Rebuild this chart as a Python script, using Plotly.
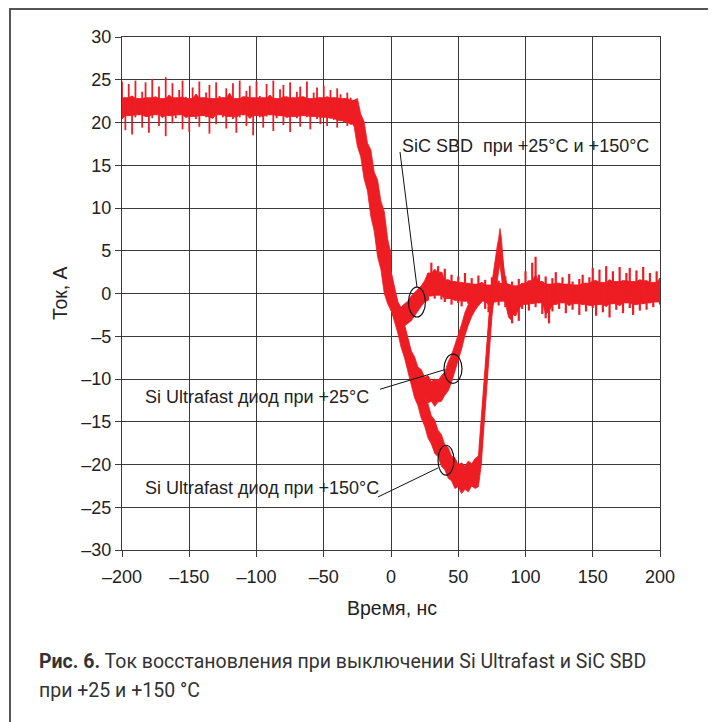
import plotly.graph_objects as go

# ---------------- data ----------------
# common plateau of all three diodes (upper / lower noise extremes)
plateau_t = [-200, -197.5, -195, -192.5, -190, -187.5, -185, -182.5, -180, -177.5,
             -175, -172.5, -170, -167.5, -165, -162.5, -160, -157.5, -155, -152.5,
             -150, -147.5, -145, -142.5, -140, -137.5, -135, -132.5, -130, -127.5,
             -125, -122.5, -120, -117.5, -115, -112.5, -110, -107.5, -105, -102.5,
             -100, -97.5, -95, -92.5, -90, -87.5, -85, -82.5, -80, -77.5,
             -75, -72.5, -70, -67.5, -65, -62.5, -60, -57.5, -55, -52.5,
             -50, -47.5, -45, -42.5, -40, -37.5, -35, -32.5, -30, -27.5]
plateau_hi = [24.8, 22.9, 24.5, 23.1, 24.9, 22.8, 23.6, 24.7, 22.9, 25.1,
              23.0, 24.2, 22.8, 25.3, 23.2, 24.6, 22.9, 23.8, 24.9, 23.0,
              22.8, 24.1, 23.3, 24.8, 22.9, 23.5, 24.4, 22.8, 24.7, 23.1,
              22.9, 24.0, 23.4, 24.6, 22.8, 24.9, 23.0, 23.7, 24.3, 22.9,
              24.8, 23.1, 22.9, 24.5, 23.2, 24.9, 22.8, 23.9, 24.4, 23.0,
              24.7, 22.9, 23.6, 24.2, 23.0, 24.8, 22.8, 23.5, 24.1, 22.9,
              24.3, 23.0, 23.8, 22.9, 24.0, 23.3, 22.8, 23.5, 22.9, 22.6]
plateau_lo = [20.4, 19.1, 20.8, 18.6, 20.6, 20.9, 19.4, 20.7, 18.8, 20.5,
              20.9, 19.6, 20.6, 18.4, 20.8, 19.9, 20.5, 20.9, 19.2, 20.6,
              18.9, 20.7, 20.4, 19.5, 20.8, 20.6, 18.7, 20.5, 19.8, 20.9,
              20.6, 19.3, 20.7, 20.4, 18.8, 20.6, 20.9, 19.6, 20.5, 18.5,
              20.8, 20.6, 19.4, 20.7, 20.9, 19.0, 20.5, 20.8, 19.7, 20.6,
              18.9, 20.7, 20.5, 19.5, 20.8, 20.6, 19.2, 20.7, 20.4, 19.8,
              20.6, 19.6, 20.5, 20.3, 19.4, 20.2, 20.0, 19.6, 19.8, 19.6]

# common fall of the current
fall_t = [-27.5, -25, -22.5, -20, -17.5, -15, -12.5, -10, -7.5, -5, -2.5, 0]
fall_mid = [21.6, 20.4, 18.6, 16.8, 15.0, 13.1, 11.2, 9.4, 7.0, 4.5, 2.3, 0.3]
fall_hi = [22.6, 22.8, 21.0, 20.1, 17.6, 16.8, 14.2, 13.3, 10.8, 9.6, 6.4, 4.6]
fall_lo = [19.6, 17.2, 16.0, 13.4, 12.0, 9.0, 7.3, 4.3, 2.8, 0.0, -1.2, -2.0]

# SiC SBD (+25 and +150 C)
sic_t = [0, 2.5, 5, 7.5, 10, 12.5, 15, 17.5, 20, 22.5, 25, 27.5]
sic_mid = [0.3, -1.4, -2.5, -2.9, -2.8, -2.4, -1.9, -1.3, -0.8, -0.3, 0.2, 0.8]
sic_hi = [2.6, 0.4, -1.0, -1.6, -1.2, -0.9, -0.3, 0.1, 0.5, 0.9, 1.5, 2.4]
sic_lo = [-1.9, -3.0, -3.6, -3.9, -3.8, -3.5, -3.2, -2.6, -2.1, -1.5, -1.0, -0.8]

# Si Ultrafast diode, +25 C
si25_t = [10, 12.5, 15, 17.5, 20, 22.5, 25, 27.5, 30, 32.5, 35, 37.5, 40, 42.5,
          45, 47.5, 50, 52.5, 55, 57.5, 60, 62.5, 65, 67.5]
si25_mid = [-5.4, -6.8, -8.0, -9.0, -9.8, -10.4, -10.9, -11.2, -11.4, -11.5, -11.4, -11.1,
            -10.5, -9.7, -8.8, -7.6, -6.3, -5.0, -3.5, -2.4, -1.5, -0.9, -0.4, 0.0]
si25_hi = [-3.8, -5.2, -6.7, -7.4, -8.6, -8.9, -9.8, -9.6, -10.3, -10.0, -10.2, -9.6,
           -9.2, -8.0, -7.2, -6.0, -4.9, -3.6, -2.2, -1.2, -0.4, 0.3, 0.6, 1.0]
si25_lo = [-7.0, -8.3, -9.4, -10.5, -11.1, -11.9, -12.1, -12.8, -12.6, -13.2, -12.7, -12.6,
           -11.9, -11.4, -10.4, -9.2, -7.8, -6.5, -4.9, -3.7, -2.7, -2.0, -1.4, -1.0]

# Si Ultrafast diode, +150 C
si150_t = [0, 2.5, 5, 7.5, 10, 12.5, 15, 17.5, 20, 22.5, 25, 27.5, 30, 32.5, 35, 37.5,
           40, 42.5, 45, 47.5, 50, 52.5, 55, 57.5, 60, 62.5,
           65, 66, 67, 68, 69, 70, 71, 72, 73, 74, 75, 76, 77, 78, 79, 80, 81, 82,
           83, 84, 85, 86, 87.5, 90]
si150_mid = [0.3, -1.1, -2.6, -4.1, -5.4, -7.0, -8.6, -10.0, -11.3, -12.5, -13.8, -14.9,
             -15.9, -16.7, -17.5, -18.3, -19.1, -19.8, -20.4, -20.9, -21.3, -21.5, -21.5,
             -21.3, -21.1, -20.9,
             -20.6, -19.8, -17.5, -15.2, -13.3, -11.6, -9.5, -6.8, -4.2, -2.3, -0.9, 0.3,
             1.3, 2.3, 3.4, 4.6, 5.6, 4.2, 2.8, 1.5, 0.6, 0.0, -1.0, -1.5]
si150_hi = [2.6, 1.0, -0.9, -2.0, -3.6, -4.9, -6.8, -7.9, -9.6, -10.6, -12.1, -12.9,
            -14.3, -14.8, -16.0, -16.5, -17.7, -18.0, -19.0, -19.2, -20.0, -19.8, -20.2,
            -19.6, -19.9, -19.3,
            -19.0, -16.8, -14.6, -12.8, -11.0, -8.9, -6.2, -3.6, -1.8, -0.2, 1.2, 2.4,
            3.4, 4.6, 5.6, 6.4, 7.6, 6.6, 4.4, 2.6, 1.8, 1.2, 0.8, 0.5]
si150_lo = [-1.9, -3.3, -4.6, -6.3, -7.5, -9.1, -10.5, -12.2, -13.1, -14.6, -15.5, -16.9,
            -17.6, -18.7, -19.1, -20.2, -20.6, -21.6, -21.9, -22.8, -22.6, -23.4, -22.9,
            -23.2, -22.5, -22.8,
            -22.6, -21.4, -20.2, -18.0, -15.8, -14.0, -12.4, -10.2, -7.4, -5.0, -2.8, -1.4,
            -0.6, 0.2, 1.0, 2.6, 3.4, 2.0, 0.8, -0.4, -1.2, -1.8, -2.8, -3.2]

# common tail after recovery
tail_t = [27.5, 30, 32.5, 35, 37.5, 40, 42.5, 45, 47.5, 50,
          52.5, 55, 57.5, 60, 62.5, 65, 67.5, 70, 72.5, 75,
          77.5, 80, 82.5, 85, 87.5, 90, 92.5, 95, 97.5, 100,
          102.5, 105, 107.5, 110, 112.5, 115, 117.5, 120, 122.5, 125,
          127.5, 130, 132.5, 135, 137.5, 140, 142.5, 145, 147.5, 150,
          152.5, 155, 157.5, 160, 162.5, 165, 167.5, 170, 172.5, 175,
          177.5, 180, 182.5, 185, 187.5, 190, 192.5, 195, 197.5, 200]
tail_hi = [2.4, 3.6, 2.8, 3.2, 2.5, 2.9, 1.6, 2.2, 1.4, 2.0,
           1.3, 2.4, 1.2, 1.8, 1.1, 2.1, 1.3, 1.6, 1.0, 1.9,
           1.3, 1.5, 1.2, 2.0, 1.1, 1.4, 0.9, 1.7, 1.2, 2.6,
           1.5, 3.6, 4.3, 2.2, 1.4, 2.0, 1.1, 1.8, 2.5, 1.2,
           1.9, 1.1, 2.3, 1.4, 1.0, 1.7, 2.2, 1.2, 1.9, 3.0,
           1.5, 2.8, 1.3, 3.2, 1.6, 2.6, 1.4, 3.1, 1.5, 2.4,
           3.0, 1.4, 2.7, 1.6, 3.1, 1.5, 2.4, 1.3, 2.6, 1.8]
tail_lo = [-0.8, -0.3, -0.6, -0.2, -0.7, -1.0, -0.6, -1.3, -0.8, -1.1,
           -1.5, -0.9, -1.2, -2.0, -1.0, -1.4, -0.9, -1.8, -2.2, -1.3,
           -1.0, -1.4, -0.9, -1.6, -2.4, -3.5, -2.6, -3.2, -1.8, -1.3,
           -2.0, -1.2, -1.6, -1.1, -2.4, -2.9, -3.5, -2.1, -1.3, -1.8,
           -1.1, -2.3, -1.4, -1.9, -1.2, -2.5, -1.3, -2.1, -1.4, -1.7,
           -2.6, -1.3, -2.2, -1.5, -2.8, -1.2, -1.9, -1.4, -2.3, -1.1,
           -1.7, -2.5, -1.3, -2.0, -1.2, -1.9, -1.1, -1.6, -1.0, -1.3]

x_ticks = [-200, -150, -100, -50, 0, 50, 100, 150, 200]
y_ticks = [-30, -25, -20, -15, -10, -5, 0, 5, 10, 15, 20, 25, 30]

x_title = "Время, нс"
y_title = "Ток, А"
labels = ["SiC SBD  при +25°C и +150°C",
          "Si Ultrafast диод при +25°C",
          "Si Ultrafast диод при +150°C"]
caption_bold = "Рис. 6."
caption_1 = " Ток восстановления при выключении Si Ultrafast и SiC SBD"
caption_2 = "при +25 и +150 °C"

# ---------------- figure ----------------
RED = "#EE1D23"
GRID = "#3a3a3a"
TXT = "#222222"
SANS = "Liberation Sans, Arial, sans-serif"

# page geometry (browser body margin is 8 px)
PL, PT, PW, PH = 122, 37, 538, 513   # plot area in page pixels


def px2paper_x(px):
    return (px - PL) / PW


def px2paper_y(py):
    return (PT + PH - py) / PH


def fmt(v):
    return ("–" + str(abs(v))) if v < 0 else str(v)


fig = go.Figure()


def band(t, hi, lo):
    fig.add_trace(go.Scatter(
        x=list(t) + list(t)[::-1], y=list(hi) + list(lo)[::-1],
        mode="lines", fill="toself", fillcolor=RED,
        line=dict(color=RED, width=0.8), hoverinfo="skip", showlegend=False))


def mid(t, y):
    fig.add_trace(go.Scatter(x=t, y=y, mode="lines",
                             line=dict(color=RED, width=3),
                             hoverinfo="skip", showlegend=False))


def noisy(t, hi, lo, w):
    # dense core (inner envelope of neighbouring samples) + thin spikes
    n = len(t)
    core_hi = [min(hi[max(0, i - 1):i + 2]) for i in range(n)]
    core_lo = [max(lo[max(0, i - 1):i + 2]) for i in range(n)]
    band(t, core_hi, core_lo)
    xs, ys = [], []
    for ti, h, l in zip(t, hi, lo):
        xs += [ti, ti, None]
        ys += [l, h, None]
    fig.add_trace(go.Scatter(x=xs, y=ys, mode="lines",
                             line=dict(color=RED, width=w),
                             hoverinfo="skip", showlegend=False))


noisy(plateau_t, plateau_hi, plateau_lo, 1.8)
band(fall_t, fall_hi, fall_lo)
mid(fall_t, fall_mid)
band(sic_t, sic_hi, sic_lo)
mid(sic_t, sic_mid)
band(si25_t, si25_hi, si25_lo)
mid(si25_t, si25_mid)
band(si150_t, si150_hi, si150_lo)
mid(si150_t, si150_mid)
noisy(tail_t, tail_hi, tail_lo, 2.2)

axis_common = dict(
    showgrid=True, gridcolor=GRID, gridwidth=1.3,
    showline=True, linecolor=GRID, linewidth=1.3, mirror=True,
    zeroline=False, ticks="outside", ticklen=6, tickwidth=1.3, tickcolor=GRID,
    tickfont=dict(family=SANS, size=18, color=TXT),
)

fig.update_xaxes(range=[-200, 200], tickvals=x_ticks,
                 ticktext=[fmt(v) for v in x_ticks], ticklabelstandoff=4,
                 **axis_common)
fig.update_yaxes(range=[-30, 30], tickvals=y_ticks,
                 ticktext=[fmt(v) for v in y_ticks], **axis_common)

afont = dict(family=SANS, size=18, color=TXT)
tfont = dict(family=SANS, size=19.5, color=TXT)
annots = [
    dict(x=px2paper_x(392), y=px2paper_y(608), xref="paper", yref="paper",
         text=x_title, showarrow=False, xanchor="center", yanchor="middle", font=tfont),
    dict(x=px2paper_x(60), y=px2paper_y(293), xref="paper", yref="paper",
         text=y_title, showarrow=False, xanchor="center", yanchor="middle",
         textangle=-90, font=tfont),
    dict(x=6.7, y=17.25, xref="x", yref="y", text=labels[0], showarrow=False,
         xanchor="left", yanchor="middle", font=afont),
    dict(x=-184.4, y=-12.1, xref="x", yref="y", text=labels[1], showarrow=False,
         xanchor="left", yanchor="middle", font=afont),
    dict(x=-184.4, y=-22.75, xref="x", yref="y", text=labels[2], showarrow=False,
         xanchor="left", yanchor="middle", font=afont),
]
cfont = dict(family="Roboto, sans-serif", size=19.5, color="#333333")
annots.append(dict(x=px2paper_x(37), y=px2paper_y(661), xref="paper", yref="paper",
                   text="<b>" + caption_bold + "</b>" + caption_1, showarrow=False,
                   xanchor="left", yanchor="middle", font=cfont))
annots.append(dict(x=px2paper_x(37), y=px2paper_y(690), xref="paper", yref="paper",
                   text=caption_2, showarrow=False,
                   xanchor="left", yanchor="middle", font=cfont))

shapes = []
# ellipses around marked points
for cx, cy, w, h in [(19.3, -1.0, 12.6, 3.5), (46.1, -8.8, 13.4, 3.4), (40.9, -19.5, 11.9, 3.5)]:
    shapes.append(dict(type="circle", xref="x", yref="y",
                       x0=cx - w / 2, x1=cx + w / 2, y0=cy - h / 2, y1=cy + h / 2,
                       line=dict(color="#111111", width=1.2)))
# leader lines
for x0, y0, x1, y1 in [(6.7, 16.55, 19.3, 0.76), (-8.2, -11.2, 40.1, -8.9), (-9.7, -23.8, 35.0, -20.4)]:
    shapes.append(dict(type="line", xref="x", yref="y", x0=x0, y0=y0, x1=x1, y1=y1,
                       line=dict(color="#111111", width=1)))
# outer frame
shapes.append(dict(type="rect", xref="paper", yref="paper",
                   x0=px2paper_x(10), x1=px2paper_x(712),
                   y0=px2paper_y(740), y1=px2paper_y(9),
                   line=dict(color="#555555", width=2), layer="below"))

fig.update_layout(
    width=708, height=714,
    margin=dict(l=PL - 8, r=708 - (PL - 8) - PW, t=PT - 8, b=714 - (PT - 8) - PH),
    paper_bgcolor="white", plot_bgcolor="white",
    showlegend=False,
    annotations=annots, shapes=shapes,
)

fig.write_html("out.html")
